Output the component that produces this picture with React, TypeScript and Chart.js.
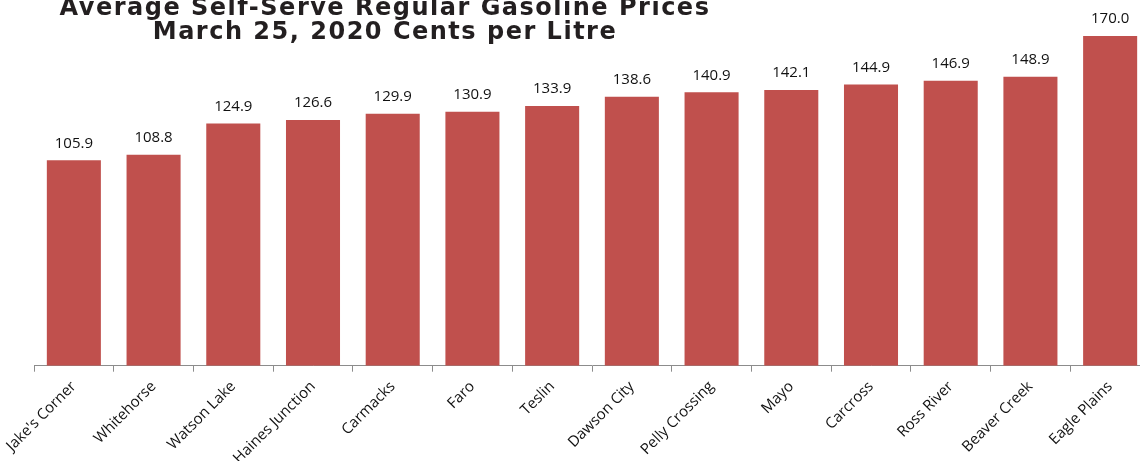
import React, { useEffect, useRef } from "react";
import { Chart, registerables } from "chart.js";

Chart.register(...registerables);

const categories: string[] = [
  "Jake's Corner",
  "Whitehorse",
  "Watson Lake",
  "Haines Junction",
  "Carmacks",
  "Faro",
  "Teslin",
  "Dawson City",
  "Pelly Crossing",
  "Mayo",
  "Carcross",
  "Ross River",
  "Beaver Creek",
  "Eagle Plains",
];

const prices: number[] = [
  105.9, 108.8, 124.9, 126.6, 129.9, 130.9, 133.9, 138.6, 140.9, 142.1, 144.9,
  146.9, 148.9, 170.0,
];

const titleLines: string[] = [
  "Average Self-Serve Regular Gasoline Prices",
  "March 25, 2020 Cents per Litre",
];

const BAR_COLOR = "#C0504D";
const TEXT_COLOR = "#111111";
const AXIS_COLOR = "#8c8c8c";

const valueLabelPlugin = {
  id: "valueLabels",
  afterDatasetsDraw(chart: any) {
    const ctx = chart.ctx;
    const meta = chart.getDatasetMeta(0);
    ctx.save();
    ctx.font = '15px "Open Sans"';
    ctx.fillStyle = TEXT_COLOR;
    ctx.textAlign = "center";
    ctx.textBaseline = "middle";
    meta.data.forEach((bar: any, i: number) => {
      const v = chart.data.datasets[0].data[i] as number;
      ctx.fillText(v.toFixed(1), bar.x, bar.y - 17);
    });
    ctx.restore();
  },
};

const titlePlugin = {
  id: "offsetTitle",
  afterDraw(chart: any) {
    const ctx = chart.ctx;
    ctx.save();
    ctx.font = 'bold 24px "DejaVu Sans"';
    (ctx as any).letterSpacing = "1.5px";
    ctx.fillStyle = "#231f20";
    ctx.textAlign = "center";
    ctx.textBaseline = "alphabetic";
    ctx.fillText(titleLines[0], 385, 15);
    ctx.fillText(titleLines[1], 385, 39);
    ctx.restore();
  },
};

export default function App() {
  const canvasRef = useRef<HTMLCanvasElement | null>(null);

  useEffect(() => {
    if (!canvasRef.current) return;
    const chart = new Chart(canvasRef.current, {
      type: "bar",
      data: {
        labels: categories,
        datasets: [
          {
            data: prices,
            backgroundColor: BAR_COLOR,
            borderWidth: 0,
            barPercentage: 0.678,
            categoryPercentage: 1,
          },
        ],
      },
      options: {
        animation: false,
        responsive: false,
        maintainAspectRatio: false,
        layout: { padding: { left: 34, right: 10, top: 16.5, bottom: 0 } },
        plugins: {
          legend: { display: false },
          title: { display: false },
          tooltip: { enabled: false },
        },
        scales: {
          x: {
            afterFit: (scale: any) => {
              scale.height = 95.3;
            },
            grid: {
              drawOnChartArea: false,
              drawTicks: true,
              tickLength: 6,
              color: AXIS_COLOR,
              lineWidth: 1,
            },
            border: { color: AXIS_COLOR, width: 1 },
            ticks: {
              minRotation: 45,
              maxRotation: 45,
              autoSkip: false,
              color: TEXT_COLOR,
              padding: 6,
              font: { family: '"Open Sans"', size: 15 },
            },
          },
          y: {
            display: false,
            min: 0,
            max: 180,
          },
        },
      },
      plugins: [valueLabelPlugin, titlePlugin],
    });
    return () => chart.destroy();
  }, []);

  return (
    <div
      style={{
        position: "fixed",
        left: 0,
        top: 0,
        width: 1140,
        height: 461,
        overflow: "hidden",
        background: "#fff",
      }}
    >
      <canvas
        ref={canvasRef}
        width={1160}
        height={461}
        style={{ display: "block", width: 1160, height: 461 }}
      />
    </div>
  );
}
